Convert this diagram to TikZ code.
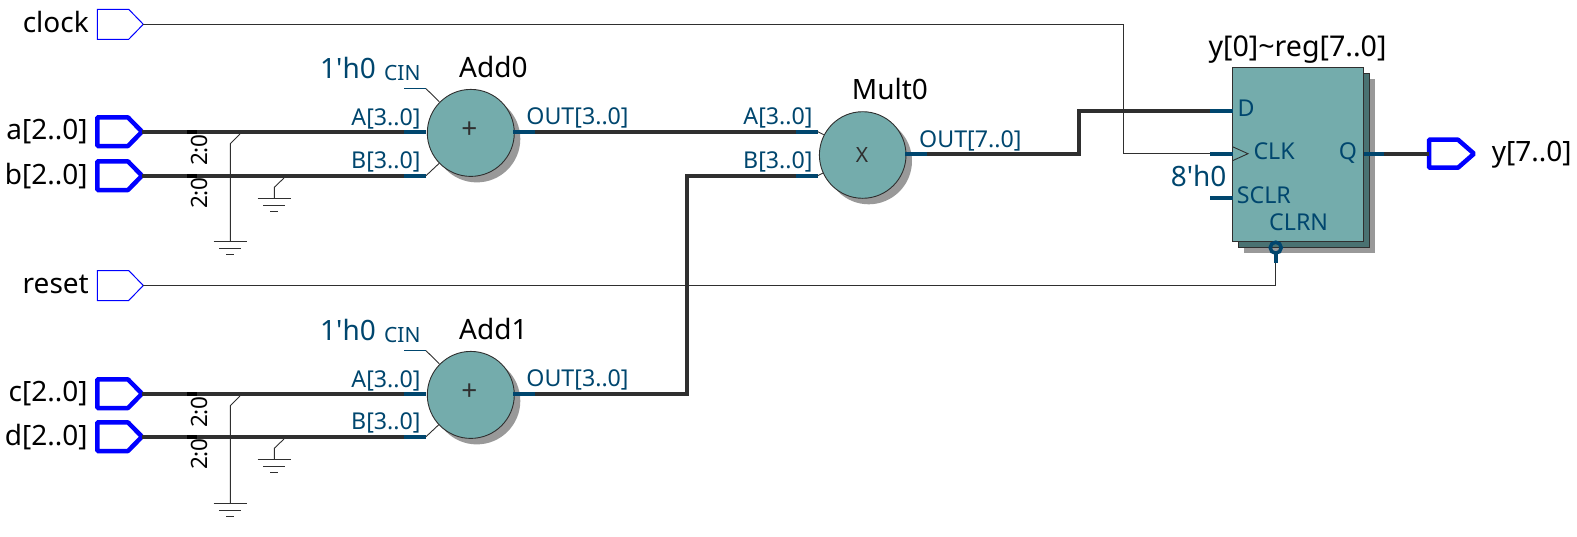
\documentclass[tikz,border=0pt]{standalone}
\usepackage{fontspec}
\setmainfont{Noto Sans}
\usepackage{tikz}
\usetikzlibrary{calc}
\definecolor{portblue}{HTML}{00466E}
\definecolor{bodyteal}{HTML}{74ACAC}
\definecolor{darkteal}{HTML}{4A7272}
\definecolor{shadowgray}{HTML}{999999}
\definecolor{wiregray}{HTML}{2F2F2F}
\tikzset{
	wire/.style={draw=wiregray, line width=0.9pt},
	bus/.style={draw=wiregray, line width=4pt, line join=miter},
	stub/.style={draw=portblue, line width=4pt},
	body/.style={fill=bodyteal, draw=wiregray, line width=0.9pt},
	pinthin/.style={draw=blue, line width=1pt},
	pinthick/.style={draw=blue, line width=4.5pt, line join=bevel},
	pinname/.style={font=\fontsize{28}{28}\selectfont, text=black, inner sep=0pt},
	portname/.style={font=\fontsize{23.2}{23.2}\selectfont, text=portblue, inner sep=0pt},
	constname/.style={font=\fontsize{28}{28}\selectfont, text=portblue, inner sep=0pt},
	cinname/.style={font=\fontsize{21}{21}\selectfont, text=portblue, inner sep=0pt},
	slicename/.style={font=\fontsize{22.5}{22.5}\selectfont, text=black, inner sep=0pt, rotate=90, anchor=base east}
}
% ground symbol below a point
\newcommand{\gnd}[1]{
	\draw[wire] ($(#1)+(-16.8,0)$) -- ($(#1)+(16.8,0)$);
	\draw[wire] ($(#1)+(-11,7)$) -- ($(#1)+(11,7)$);
	\draw[wire] ($(#1)+(-4,13)$) -- ($(#1)+(4,13)$);
}
\begin{document}
\begin{tikzpicture}[x=1pt,y=-1pt]
	\useasboundingbox (0,0) rectangle (1577,536);

	%%% Points
	\coordinate (clock) at (143.3,24.3);
	\coordinate (reset) at (143.3,285.5);
	\coordinate (a) at (142,131.7);
	\coordinate (b) at (142,175.7);
	\coordinate (c) at (142,393.7);
	\coordinate (d) at (142,436.7);
	\coordinate (y) at (1429,153.7);
	\coordinate (Mult0) at (862.7,155);
	\coordinate (Mult0A) at (817.7,131.7);
	\coordinate (Mult0B) at (817.7,175.7);
	\coordinate (Mult0Out) at (905,153.7);
	\coordinate (regD) at (1232.5,110.7);
	\coordinate (regCLK) at (1232.5,153.7);
	\coordinate (regSCLR) at (1232.5,197.7);
	\coordinate (regQ) at (1363.5,153.7);
	\coordinate (regCLRN) at (1275.5,262.5);
	\coordinate (bendD1) at (1078.5,153.7);
	\coordinate (bendD2) at (1078.5,110.7);
	\coordinate (bendB1) at (687,393.7);
	\coordinate (bendB2) at (687,175.7);
	\coordinate (bendCLK1) at (1123.3,24.3);
	\coordinate (bendCLK2) at (1123.3,153.7);
	\coordinate (bendCLRN) at (1275.5,285.5);

	%%% Pins
	\foreach \p in {clock,reset}
	\draw[pinthin] (\p) -- ++(-14.6,-15) -- ++(-31.4,0) -- ++(0,30) -- ++(31.4,0) -- cycle;
	\foreach \p in {a,b,c,d}
	\draw[pinthick] (\p) -- ++(-14,-14.3) -- ++(-30.7,0) -- ++(0,28.6) -- ++(30.7,0) -- cycle;
	\draw[pinthick] (y) -- ++(0,-14) -- ++(29,0) -- ++(16,14) -- ++(-16,14) -- ++(-29,0) -- cycle;

	\node[pinname, anchor=base east] (clockname) at (89,32.4) {clock};
	\node[pinname, anchor=base east] (aname) at (87.8,139.8) {a[2..0]};
	\node[pinname, anchor=base east] (bname) at (87.8,184) {b[2..0]};
	\node[pinname, anchor=base east] (resetname) at (89,293.7) {reset};
	\node[pinname, anchor=base east] (cname) at (87.8,401.8) {c[2..0]};
	\node[pinname, anchor=base east] (dname) at (87.8,445.8) {d[2..0]};
	\node[pinname, anchor=base west] (yname) at (1491.7,161.7) {y[7..0]};

	%%% Adders
	\foreach \n/\p/\q/\ya/\yb in {Add0/a/b/131.7/175.7, Add1/c/d/393.7/436.7}{
		\coordinate (\n) at (470.8,\ya+1.2);
		\coordinate (\n A) at (426,\ya);
		\coordinate (\n B) at (426,\yb);
		\coordinate (\n C) at (426,\ya-43);
		\coordinate (\n Out) at (513,\ya);
		% grounded tap wires
		\draw[wire] (240,\ya+2.3) -- (230.3,\ya+12) -- (230.3,\ya+109.6) coordinate (\n G1);
		\draw[wire] (284,\yb+2.3) -- (274.3,\yb+11.6) -- (274.3,\yb+22.6) coordinate (\n G2);
		\gnd{\n G1}
		\gnd{\n G2}
		% shadow and wires under the circle
		\fill[shadowgray] ($(\n)+(6,6)$) circle (43.5);
		\draw[bus] (\p) -- (\n A);
		\draw[bus] (\q) -- (\n B);
		\draw[draw=black, line width=4pt] (187.3,\ya) -- (197.3,\ya) (187.3,\yb) -- (197.3,\yb);
		\draw[stub] (\n A) -- ++(-22,0);
		\draw[stub] (\n B) -- ++(-22,0);
		\draw[wire] (\n B) -- ++(13.3,-12.5);
		\draw[draw=portblue, line width=1pt] (404,\ya-43) -- (\n C);
		\draw[wire] (\n C) -- ++(13.3,13);
		\draw[body] (\n) circle (43.5);
		\draw[stub] (\n Out) -- ++(22,0);
		% labels
		\node[font=\fontsize{28}{28}\selectfont, text=wiregray, inner sep=0pt] (\n plus) at (469.3,\ya-1.7) {+};
		\node[pinname, anchor=base west] (\n name) at (459,\ya-54.2) {\n};
		\node[constname, anchor=base west] (\n const) at (320,\ya-53) {1\textquotesingle h0};
		\node[cinname, anchor=base east] (\n cin) at (420.7,\ya-51.7) {CIN};
		\node[portname, anchor=base east] (\n aname) at (420.7,\ya-6.7) {A[3..0]};
		\node[portname, anchor=base east] (\n bname) at (420.7,\yb-7.5) {B[3..0]};
		\node[portname, anchor=base west] (\n outname) at (526.2,\ya-7.2) {OUT[3..0]};
		\node[slicename] (\n sa) at (207.3,\ya+2.3) {2:0};
		\node[slicename] (\n sb) at (207.3,\yb+1.3) {2:0};
	}

	%%% Multiplier
	\fill[shadowgray] ($(Mult0)+(6,6)$) circle (43.3);
	\draw[bus] (Add0Out) -- (Mult0A);
	\draw[bus] (Add1Out) -- (bendB1) -- (bendB2) -- (Mult0B);
	\draw[stub] (Add0Out) -- ++(22,0);
	\draw[stub] (Add1Out) -- ++(22,0);
	\draw[stub] (Mult0A) -- ++(-21.7,0);
	\draw[stub] (Mult0B) -- ++(-21.7,0);
	\draw[wire] (Mult0A) -- ++(6,3);
	\draw[wire] (Mult0B) -- ++(6,-3);
	\draw[body] (Mult0) circle (43.3);
	\draw[bus] (Mult0Out) -- (bendD1) -- (bendD2) -- (regD);
	\draw[stub] (Mult0Out) -- ++(22,0);
	\node[font=\fontsize{21}{21}\selectfont, text=wiregray, inner sep=0pt] (multx) at (862,155) {X};
	\node[pinname, anchor=base west] (multname) at (851.7,99) {Mult0};
	\node[portname, anchor=base east] (multaname) at (812.7,124.5) {A[3..0]};
	\node[portname, anchor=base east] (multbname) at (812.7,168.2) {B[3..0]};
	\node[portname, anchor=base west] (multoutname) at (919,147.2) {OUT[7..0]};

	%%% Register
	\fill[shadowgray] (1244,79) rectangle (1375,252.5);
	\filldraw[fill=darkteal, draw=wiregray, line width=0.9pt] (1238.5,73.5) rectangle (1369.5,247.5);
	\draw[wire] (clock) -- (bendCLK1) -- (bendCLK2) -- (regCLK);
	\draw[wire] (reset) -- (bendCLRN) -- (regCLRN);
	\draw[bus] (regQ) -- (y);
	\draw[body] (1232.5,67.5) rectangle (1363.5,241);
	\draw[wire] ($(regCLK)+(0,-7)$) -- ($(regCLK)+(15.5,0)$) -- ($(regCLK)+(0,7)$);
	\draw[stub] (regD) -- ++(-22.5,0);
	\draw[stub] (regCLK) -- ++(-22.5,0);
	\draw[stub] (regSCLR) -- ++(-22.5,0);
	\draw[stub] (regQ) -- ++(20.5,0);
	\draw[stub] (regCLRN) -- ++(0,-9);
	\draw[draw=portblue, line width=3.5pt] (1275.7,247.7) circle (5.5);

	\node[font=\fontsize{28.6}{28.6}\selectfont, text=black, inner sep=0pt, anchor=base west] (regname) at (1208.3,56) {y[0]\char"7E reg[7..0]};
	\node[portname, anchor=base west] (dname2) at (1237.3,116) {D};
	\node[portname, anchor=base west] (clkname) at (1253.3,159.5) {CLK};
	\node[portname, anchor=base east] (qname) at (1357.3,159.5) {Q};
	\node[constname, anchor=base east] (sclrconst) at (1226.7,186.7) {8\textquotesingle h0};
	\node[portname, anchor=base west] (sclrname) at (1236.7,203.8) {SCLR};
	\node[portname, anchor=base west] (clrnname) at (1269,230.5) {CLRN};
\end{tikzpicture}
\end{document}
